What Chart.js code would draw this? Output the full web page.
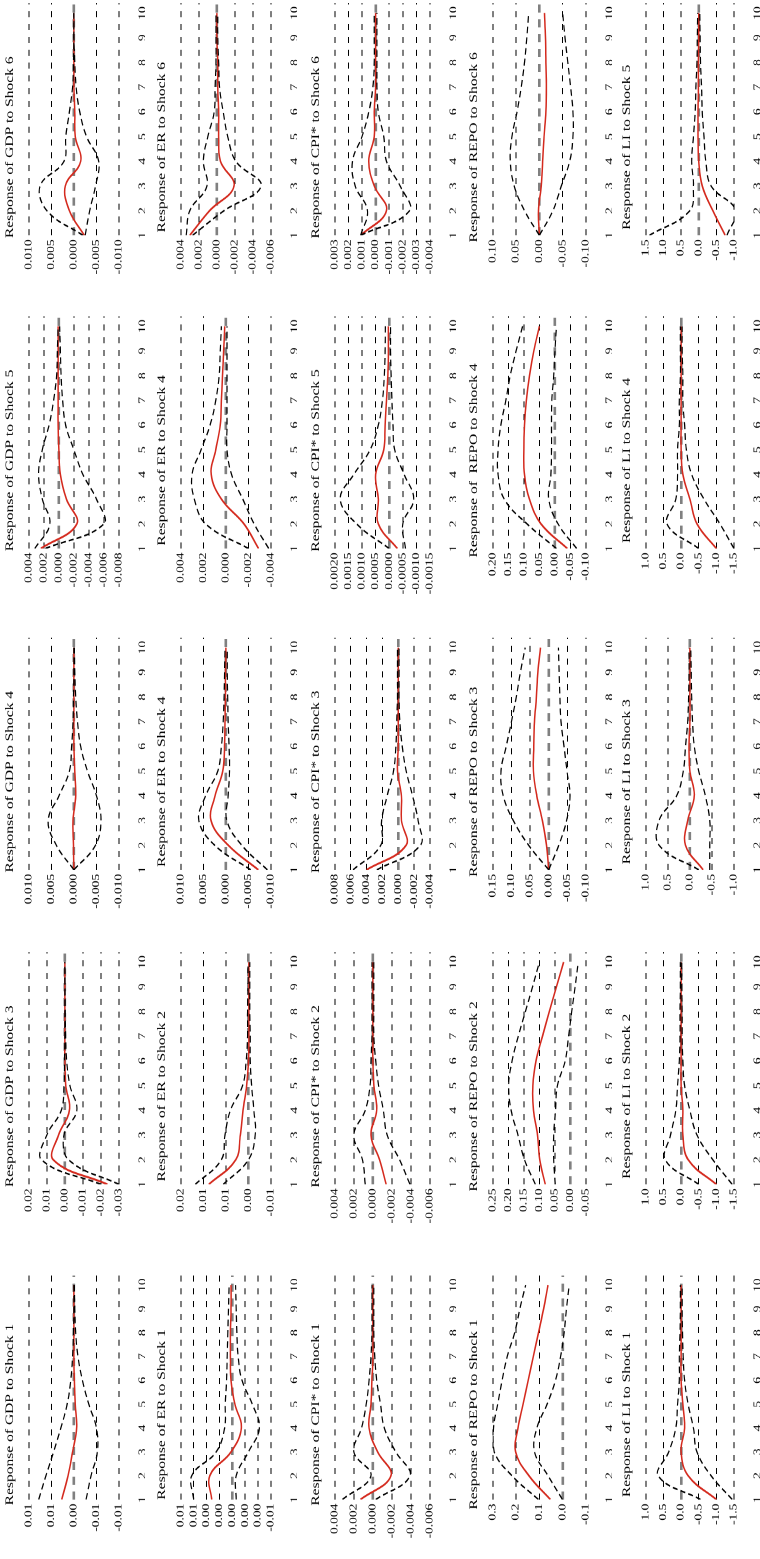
<!DOCTYPE html>
<html>
<head>
<meta charset="utf-8">
<script src="https://cdn.jsdelivr.net/npm/chart.js@4.4.1/dist/chart.umd.min.js"></script>
<style>
  html, body { margin: 0; padding: 0; background: #fff; overflow: hidden; }
  body { width: 760px; height: 1559px; position: relative; }
  /* the figure is drawn landscape, stretched sideways, then turned a quarter */
  #page { position: absolute; left: 0; top: 0; width: 1155px; height: 760px;
          transform-origin: 0 0; transform: translate(0, 1559px) rotate(-90deg) scale(1.35, 1); }
  #page canvas { position: absolute; }
</style>
</head>
<body>
<div id="page"></div>
<script>
const steps = [1, 2, 3, 4, 5, 6, 7, 8, 9, 10];

// ---- GDP ----
const gdpS1Irf = [0.0027, 0.0013, 0.0003, -0.0006, -0.0003, -0.0001, 0, 0, 0, 0];
const gdpS1Hi  = [0.0078, 0.0062, 0.0045, 0.0029, 0.0015, 0.0007, 0.0003, 0.0001, 0, 0];
const gdpS1Lo  = [-0.0027, -0.0038, -0.0052, -0.0050, -0.0033, -0.0019, -0.0009, -0.0004, -0.0002, -0.0001];
const gdpS1Ticks = [0.01, 0.005, 0, -0.005, -0.01];
const gdpS1Labels = ['0.01', '0.01', '0.00', '-0.01', '-0.01'];

const gdpS3Irf = [-0.0236, 0.0065, 0.0035, -0.0025, -0.0005, 0, 0, 0, 0, 0];
const gdpS3Hi  = [-0.020, 0.013, 0.010, 0.002, 0.0005, 0.0002, 0, 0, 0, 0];
const gdpS3Lo  = [-0.030, -0.002, 0.0005, -0.0066, -0.0028, -0.0010, -0.0004, -0.0002, -0.0001, 0];
const gdpS3Ticks = [0.02, 0.01, 0, -0.01, -0.02, -0.03];
const gdpS3Labels = ['0.02', '0.01', '0.00', '-0.01', '-0.02', '-0.03'];

const gdpS4Irf = [0, 0.0001, 0.0002, -0.0004, -0.0002, 0, 0, 0, 0, 0];
const gdpS4Hi  = [0, 0.0039, 0.0057, 0.0033, 0.0010, 0.0005, 0.0002, 0.0001, 0, 0];
const gdpS4Lo  = [0, -0.0048, -0.0060, -0.0050, -0.0030, -0.0015, -0.0008, -0.0004, -0.0002, -0.0001];
const gdpS4Ticks = [0.01, 0.005, 0, -0.005, -0.01];
const gdpS4Labels = ['0.010', '0.005', '0.000', '-0.005', '-0.010'];

const gdpS5Irf = [0.0024, -0.0024, -0.0010, -0.0002, 0, 0.0001, 0.0001, 0.0001, 0.0001, 0.0001];
const gdpS5Hi  = [0.0032, 0.0012, 0.0022, 0.0027, 0.0022, 0.0013, 0.0007, 0.0003, 0.0002, 0.0001];
const gdpS5Lo  = [0.0018, -0.0060, -0.0050, -0.0032, -0.0020, -0.0009, -0.0005, -0.0003, -0.0002, -0.0001];
const gdpS5Ticks = [0.004, 0.002, 0, -0.002, -0.004, -0.006, -0.008];
const gdpS5Labels = ['0.004', '0.002', '0.000', '-0.002', '-0.004', '-0.006', '-0.008'];

const gdpS6Irf = [-0.0023, 0.0010, 0.0019, -0.0015, -0.0003, -0.0002, 0, 0, 0, 0];
const gdpS6Hi  = [-0.0020, 0.0060, 0.0075, 0.0022, 0.0018, 0.0010, 0.0003, 0.0001, 0, 0];
const gdpS6Lo  = [-0.0025, -0.0035, -0.0048, -0.0055, -0.0028, -0.0013, -0.0005, -0.0002, 0, 0];
const gdpS6Ticks = [0.01, 0.005, 0, -0.005, -0.01];
const gdpS6Labels = ['0.010', '0.005', '0.000', '-0.005', '-0.010'];

// ---- ER ----
const erS1Irf = [0.0032, 0.0035, 0.0002, -0.0014, -0.0004, 0.0002, 0.0003, 0.0003, 0.0002, 0.0002];
const erS1Hi  = [0.0060, 0.0063, 0.0025, 0.0012, 0.0011, 0.0009, 0.0008, 0.0007, 0.0006, 0.0005];
const erS1Lo  = [-0.0006, -0.0006, -0.0025, -0.0042, -0.0031, -0.0015, -0.0009, -0.0007, -0.0006, -0.0005];
const erS1Ticks = [0.008, 0.006, 0.004, 0.002, 0, -0.002, -0.004, -0.006];
const erS1Labels = ['0.01', '0.01', '0.00', '0.00', '0.00', '0.00', '0.00', '-0.01'];

const erS2Irf = [0.0088, 0.0028, 0.0018, 0.0012, 0.0004, 0, -0.0001, -0.0001, -0.0001, -0.0001];
const erS2Hi  = [0.0118, 0.0060, 0.0052, 0.0040, 0.0013, 0.0005, 0.0002, 0.0002, 0.0001, 0.0001];
const erS2Lo  = [0.0056, 0, -0.0015, -0.0012, -0.0007, -0.0004, -0.0004, -0.0003, -0.0003, -0.0003];
const erS2Ticks = [0.015, 0.01, 0.005, 0, -0.005];
const erS2Labels = ['0.02', '0.01', '0.01', '0.00', '-0.01'];

const erS4aIrf = [-0.0072, -0.0005, 0.0033, 0.0024, 0.0007, 0.0003, 0.0002, 0.0001, 0.0001, 0];
const erS4aHi  = [-0.0055, 0.0025, 0.0060, 0.0045, 0.0018, 0.0010, 0.0006, 0.0004, 0.0003, 0.0002];
const erS4aLo  = [-0.0092, -0.0035, -0.0002, -0.0005, -0.0008, -0.0007, -0.0005, -0.0004, -0.0003, -0.0003];
const erS4aTicks = [0.01, 0.005, 0, -0.005, -0.01];
const erS4aLabels = ['0.010', '0.005', '0.000', '-0.005', '-0.010'];

const erS4bIrf = [-0.0029, -0.0016, 0.0004, 0.0013, 0.0009, 0.0005, 0.0004, 0.0003, 0.0002, 0.0001];
const erS4bHi  = [-0.0020, 0.0018, 0.0028, 0.0030, 0.0022, 0.0014, 0.0009, 0.0006, 0.0005, 0.0004];
const erS4bLo  = [-0.0038, -0.0025, -0.0015, -0.0005, -0.0001, -0.0001, -0.0001, -0.0001, -0.0001, -0.0001];
const erS4bTicks = [0.004, 0.002, 0, -0.002, -0.004];
const erS4bLabels = ['0.004', '0.002', '0.000', '-0.002', '-0.004'];

const erS6Irf = [0.0030, 0.0008, -0.0019, -0.0004, -0.0002, -0.0002, -0.0001, -0.0001, 0, 0];
const erS6Hi  = [0.0034, 0.0030, 0.0011, 0.0015, 0.0010, 0.0003, 0.0002, 0.0001, 0.0001, 0.0001];
const erS6Lo  = [0.0027, -0.0008, -0.0049, -0.0021, -0.0012, -0.0007, -0.0003, -0.0002, -0.0001, -0.0001];
const erS6Ticks = [0.004, 0.002, 0, -0.002, -0.004, -0.006];
const erS6Labels = ['0.004', '0.002', '0.000', '-0.002', '-0.004', '-0.006'];

// ---- CPI ----
const cpiS1Irf = [0.0013, -0.0019, -0.0005, 0.0004, 0.0002, 0.0001, 0, 0, 0, 0];
const cpiS1Hi  = [0.0032, 0.0002, 0.0020, 0.0012, 0.0007, 0.0004, 0.0002, 0.0001, 0.0001, 0.0001];
const cpiS1Lo  = [-0.0003, -0.0039, -0.0024, -0.0012, -0.0008, -0.0004, -0.0002, -0.0001, -0.0001, -0.0001];
const cpiS1Ticks = [0.004, 0.002, 0, -0.002, -0.004, -0.006];
const cpiS1Labels = ['0.004', '0.002', '0.000', '-0.002', '-0.004', '-0.006'];

const cpiS2Irf = [-0.0014, -0.0007, 0.0002, -0.0004, -0.0001, 0, 0, 0, 0, 0];
const cpiS2Hi  = [0.0008, 0.0011, 0.0020, 0.0008, 0.0003, 0.0002, 0.0001, 0.0001, 0.0001, 0.0001];
const cpiS2Lo  = [-0.0039, -0.0028, -0.0015, -0.0011, -0.0006, -0.0003, -0.0001, -0.0001, -0.0001, -0.0001];
const cpiS2Ticks = [0.004, 0.002, 0, -0.002, -0.004, -0.006];
const cpiS2Labels = ['0.004', '0.002', '0.000', '-0.002', '-0.004', '-0.006'];

const cpiS3Irf = [0.0040, -0.0010, -0.0004, -0.0004, 0.0001, 0, 0, 0, 0, 0];
const cpiS3Hi  = [0.0057, 0.0022, 0.0021, 0.0014, 0.0006, 0.0003, 0.0002, 0.0001, 0.0001, 0.0001];
const cpiS3Lo  = [0.0027, -0.0028, -0.0025, -0.0018, -0.0010, -0.0005, -0.0002, -0.0001, -0.0001, -0.0001];
const cpiS3Ticks = [0.008, 0.006, 0.004, 0.002, 0, -0.002, -0.004];
const cpiS3Labels = ['0.008', '0.006', '0.004', '0.002', '0.000', '-0.002', '-0.004'];

const cpiS5Irf = [-0.0003, 0.0004, 0.0004, 0.0005, 0.0002, 0.00015, 0.0001, 0.00005, 0.00003, 0.00003];
const cpiS5Hi  = [0, 0.0012, 0.0018, 0.0013, 0.0007, 0.0004, 0.00025, 0.00018, 0.00015, 0.00014];
const cpiS5Lo  = [-0.0006, -0.0005, -0.0009, -0.00055, -0.0002, -0.00014, -0.0001, -0.00007, -0.00005, -0.00005];
const cpiS5Ticks = [0.002, 0.0015, 0.001, 0.0005, 0, -0.0005, -0.001, -0.0015];
const cpiS5Labels = ['0.0020', '0.0015', '0.0010', '0.0005', '0.0000', '-0.0005', '-0.0010', '-0.0015'];

const cpiS6Irf = [0.0011, -0.0008, 0.0001, 0.0005, 0.0001, 0.0001, 0, 0, 0, 0];
const cpiS6Hi  = [0.0011, 0.0006, 0.0015, 0.0017, 0.0010, 0.0005, 0.0002, 0.0001, 0.0001, 0.0001];
const cpiS6Lo  = [0.0011, -0.0025, -0.0018, -0.0008, -0.0006, -0.0002, -0.0001, -0.0001, -0.0001, -0.0001];
const cpiS6Ticks = [0.003, 0.002, 0.001, 0, -0.001, -0.002, -0.003, -0.004];
const cpiS6Labels = ['0.003', '0.002', '0.001', '0.000', '-0.001', '-0.002', '-0.003', '-0.004'];

// ---- REPO ----
const repoS1Irf = [0.053, 0.145, 0.202, 0.192, 0.170, 0.148, 0.126, 0.104, 0.082, 0.063];
const repoS1Hi  = [0.104, 0.218, 0.294, 0.297, 0.279, 0.260, 0.238, 0.206, 0.184, 0.159];
const repoS1Lo  = [0.001, 0.063, 0.121, 0.111, 0.067, 0.031, 0.009, -0.006, -0.016, -0.028];
const repoS1Ticks = [0.3, 0.2, 0.1, 0, -0.1];
const repoS1Labels = ['0.3', '0.2', '0.1', '0.0', '-0.1'];

const repoS2Irf = [0.081, 0.099, 0.106, 0.119, 0.121, 0.111, 0.090, 0.068, 0.045, 0.022];
const repoS2Hi  = [0.113, 0.148, 0.169, 0.191, 0.199, 0.188, 0.168, 0.145, 0.122, 0.100];
const repoS2Lo  = [0.049, 0.054, 0.054, 0.048, 0.042, 0.017, 0.006, -0.004, -0.015, -0.025];
const repoS2Ticks = [0.25, 0.2, 0.15, 0.1, 0.05, 0, -0.05];
const repoS2Labels = ['0.25', '0.20', '0.15', '0.10', '0.05', '0.00', '-0.05'];

const repoS3Irf = [0, 0.006, 0.017, 0.032, 0.041, 0.040, 0.038, 0.033, 0.029, 0.022];
const repoS3Hi  = [0, 0.054, 0.095, 0.122, 0.128, 0.114, 0.100, 0.087, 0.076, 0.063];
const repoS3Lo  = [0, -0.027, -0.048, -0.057, -0.049, -0.041, -0.033, -0.030, -0.028, -0.026];
const repoS3Ticks = [0.15, 0.1, 0.05, 0, -0.05, -0.1];
const repoS3Labels = ['0.15', '0.10', '0.05', '0.00', '-0.05', '-0.10'];

const repoS4Irf = [-0.040, 0.045, 0.082, 0.098, 0.100, 0.098, 0.092, 0.082, 0.068, 0.050];
const repoS4Hi  = [-0.005, 0.090, 0.163, 0.183, 0.183, 0.174, 0.158, 0.144, 0.125, 0.104];
const repoS4Lo  = [-0.070, -0.010, 0.020, 0.013, 0.011, 0.011, 0.010, 0.004, 0, -0.005];
const repoS4Ticks = [0.2, 0.15, 0.1, 0.05, 0, -0.05, -0.1];
const repoS4Labels = ['0.20', '0.15', '0.10', '0.05', '0.00', '-0.05', '-0.10'];

const repoS6Irf = [0, 0.002, -0.004, -0.007, -0.010, -0.014, -0.015, -0.014, -0.013, -0.011];
const repoS6Hi  = [0, 0.032, 0.054, 0.0625, 0.059, 0.048, 0.039, 0.032, 0.027, 0.023];
const repoS6Lo  = [0, -0.029, -0.047, -0.065, -0.072, -0.072, -0.067, -0.061, -0.055, -0.050];
const repoS6Ticks = [0.1, 0.05, 0, -0.05, -0.1];
const repoS6Labels = ['0.10', '0.05', '0.00', '-0.05', '-0.10'];

// ---- LI ----
const liS1Irf = [-1.0, -0.2, 0, -0.1, -0.05, 0, 0, 0, 0, 0];
const liS1Hi  = [-0.55, 0.65, 0.35, 0.15, 0.1, 0.05, 0.05, 0.03, 0.02, 0.02];
const liS1Lo  = [-1.45, -0.85, -0.45, -0.35, -0.2, -0.1, -0.06, -0.04, -0.03, -0.03];
const liS1Ticks = [1, 0.5, 0, -0.5, -1, -1.5];
const liS1Labels = ['1.0', '0.5', '0.0', '-0.5', '-1.0', '-1.5'];

const liS2Irf = [-1.0, -0.2, -0.05, -0.05, 0, 0, 0, 0, 0, 0];
const liS2Hi  = [-0.5, 0.45, 0.3, 0.15, 0.1, 0.05, 0.03, 0.03, 0.02, 0.02];
const liS2Lo  = [-1.45, -0.9, -0.45, -0.25, -0.1, -0.05, -0.03, -0.03, -0.02, -0.02];
const liS2Ticks = [1, 0.5, 0, -0.5, -1, -1.5];
const liS2Labels = ['1.0', '0.5', '0.0', '-0.5', '-1.0', '-1.5'];

const liS3Irf = [-0.3, 0.1, 0.05, -0.1, 0, 0.02, 0, 0, 0, 0];
const liS3Hi  = [-0.2, 0.7, 0.7, 0.3, 0.15, 0.1, 0.05, 0.03, 0.02, 0.02];
const liS3Lo  = [-0.45, -0.45, -0.45, -0.35, -0.2, -0.1, -0.06, -0.04, -0.03, -0.02];
const liS3Ticks = [1, 0.5, 0, -0.5, -1];
const liS3Labels = ['1.0', '0.5', '0.0', '-0.5', '-1.0'];

const liS4Irf = [-1.0, -0.45, -0.25, -0.05, 0, 0, 0, 0, 0, 0];
const liS4Hi  = [-0.5, 0.4, 0.15, 0.1, 0.1, 0.05, 0.05, 0.02, 0.02, 0.02];
const liS4Lo  = [-1.5, -1.1, -0.65, -0.3, -0.15, -0.1, -0.05, -0.05, -0.03, -0.03];
const liS4Ticks = [1, 0.5, 0, -0.5, -1, -1.5];
const liS4Labels = ['1.0', '0.5', '0.0', '-0.5', '-1.0', '-1.5'];

const liS5Irf = [-0.75, -0.4, -0.1, 0, 0.02, 0.02, 0.01, 0.01, 0, 0];
const liS5Hi  = [1.4, 0.25, 0.15, 0.2, 0.15, 0.1, 0.08, 0.05, 0.04, 0.03];
const liS5Lo  = [-0.8, -1.05, -0.35, -0.2, -0.15, -0.1, -0.08, -0.05, -0.04, -0.03];
const liS5Ticks = [1.5, 1, 0.5, 0, -0.5, -1];
const liS5Labels = ['1.5', '1.0', '0.5', '0.0', '-0.5', '-1.0'];

// rows top to bottom, panels left to right
const panels = [
  [
    ['Response of GDP to Shock 1', gdpS1Irf, gdpS1Hi, gdpS1Lo, gdpS1Ticks, gdpS1Labels],
    ['Response of GDP to Shock 3', gdpS3Irf, gdpS3Hi, gdpS3Lo, gdpS3Ticks, gdpS3Labels],
    ['Response of GDP to Shock 4', gdpS4Irf, gdpS4Hi, gdpS4Lo, gdpS4Ticks, gdpS4Labels],
    ['Response of GDP to Shock 5', gdpS5Irf, gdpS5Hi, gdpS5Lo, gdpS5Ticks, gdpS5Labels],
    ['Response of GDP to Shock 6', gdpS6Irf, gdpS6Hi, gdpS6Lo, gdpS6Ticks, gdpS6Labels]
  ],
  [
    ['Response of ER to Shock 1', erS1Irf, erS1Hi, erS1Lo, erS1Ticks, erS1Labels],
    ['Response of ER to Shock 2', erS2Irf, erS2Hi, erS2Lo, erS2Ticks, erS2Labels],
    ['Response of ER to Shock 4', erS4aIrf, erS4aHi, erS4aLo, erS4aTicks, erS4aLabels],
    ['Response of ER to Shock 4', erS4bIrf, erS4bHi, erS4bLo, erS4bTicks, erS4bLabels],
    ['Response of ER to Shock 6', erS6Irf, erS6Hi, erS6Lo, erS6Ticks, erS6Labels]
  ],
  [
    ['Response of CPI* to Shock 1', cpiS1Irf, cpiS1Hi, cpiS1Lo, cpiS1Ticks, cpiS1Labels],
    ['Response of CPI* to Shock 2', cpiS2Irf, cpiS2Hi, cpiS2Lo, cpiS2Ticks, cpiS2Labels],
    ['Response of CPI* to Shock 3', cpiS3Irf, cpiS3Hi, cpiS3Lo, cpiS3Ticks, cpiS3Labels],
    ['Response of CPI* to Shock 5', cpiS5Irf, cpiS5Hi, cpiS5Lo, cpiS5Ticks, cpiS5Labels],
    ['Response of CPI* to Shock 6', cpiS6Irf, cpiS6Hi, cpiS6Lo, cpiS6Ticks, cpiS6Labels]
  ],
  [
    ['Response of REPO to Shock 1', repoS1Irf, repoS1Hi, repoS1Lo, repoS1Ticks, repoS1Labels],
    ['Response of REPO to Shock 2', repoS2Irf, repoS2Hi, repoS2Lo, repoS2Ticks, repoS2Labels],
    ['Response of REPO to Shock 3', repoS3Irf, repoS3Hi, repoS3Lo, repoS3Ticks, repoS3Labels],
    ['Response of  REPO to Shock 4', repoS4Irf, repoS4Hi, repoS4Lo, repoS4Ticks, repoS4Labels],
    ['Response of REPO to Shock 6', repoS6Irf, repoS6Hi, repoS6Lo, repoS6Ticks, repoS6Labels]
  ],
  [
    ['Response of LI to Shock 1', liS1Irf, liS1Hi, liS1Lo, liS1Ticks, liS1Labels],
    ['Response of LI to Shock 2', liS2Irf, liS2Hi, liS2Lo, liS2Ticks, liS2Labels],
    ['Response of LI to Shock 3', liS3Irf, liS3Hi, liS3Lo, liS3Ticks, liS3Labels],
    ['Response of LI to Shock 4', liS4Irf, liS4Hi, liS4Lo, liS4Ticks, liS4Labels],
    ['Response of LI to Shock 5', liS5Irf, liS5Hi, liS5Lo, liS5Ticks, liS5Labels]
  ]
];

// layout, in px of the unstretched landscape figure
const S = 1.35;                                // sideways stretch
const UNIT = 24.7;                             // px per step
const colX1 = [59, 374, 689, 1010, 1324];      // where step 1 sits
const titleMid = [145, 509, 820, 1134, 1459];
const plotTop = [29, 181, 335, 493, 646];
const plotH = [90, 90, 95, 93, 88];
const TITLE_H = 29.8, AXIS_H = 26;
const serif = 'Liberation Serif, Times New Roman, serif';

const page = document.getElementById('page');

function pts(arr) {
  return steps.map((x, i) => ({ x: x, y: arr[i] }));
}

function drawPanel(r, c, p) {
  const [title, irf, hi, lo, ticks, labels] = p;
  const plotL = colX1[c];
  const plotR = plotL + 9.4 * UNIT;
  let L = plotL - 56, R = plotR + 2;
  if ((L + R) / 2 < titleMid[c]) R = 2 * titleMid[c] - L; else L = 2 * titleMid[c] - R;
  const w = Math.round((R - L) / S);
  const yW = (plotL - L) / S;
  const padR = w - yW - (plotR - plotL) / S;
  const h = Math.round(TITLE_H + plotH[r] + AXIS_H);

  const canvas = document.createElement('canvas');
  canvas.width = w;
  canvas.height = h;
  canvas.style.left = (L / S) + 'px';
  canvas.style.top = (plotTop[r] - TITLE_H) + 'px';
  page.appendChild(canvas);

  const band = { borderColor: '#000', borderWidth: 1.2, borderDash: [5, 3], pointRadius: 0, tension: 0.4, fill: false };
  new Chart(canvas, {
    type: 'line',
    data: {
      datasets: [
        Object.assign({ data: pts(hi) }, band),
        Object.assign({ data: pts(lo) }, band),
        { data: pts(irf), borderColor: '#d42a1e', borderWidth: 1.5, pointRadius: 0, tension: 0.4, fill: false }
      ]
    },
    options: {
      responsive: false,
      animation: false,
      devicePixelRatio: 2,
      layout: { padding: { left: 0, right: padR, top: 0, bottom: 0 } },
      plugins: {
        legend: { display: false },
        tooltip: { enabled: false },
        title: {
          display: true,
          text: title,
          color: '#000',
          font: { family: serif, size: 11.5, weight: 'normal' },
          padding: { top: 4, bottom: 12 }
        }
      },
      scales: {
        x: {
          type: 'linear',
          min: 1,
          max: 10.4,
          afterBuildTicks: s => { s.ticks = steps.map(v => ({ value: v })); },
          afterFit: s => { s.height = AXIS_H; },
          grid: { display: false },
          border: { display: false },
          ticks: {
            autoSkip: false, maxRotation: 0, padding: 10, color: '#000',
            font: { family: serif, size: 10 },
            callback: v => String(v)
          }
        },
        y: {
          min: ticks[ticks.length - 1],
          max: ticks[0],
          afterBuildTicks: s => { s.ticks = ticks.slice().reverse().map(v => ({ value: v })); },
          afterFit: s => { s.width = yW; },
          grid: {
            drawTicks: false,
            color: ctx => (ctx.tick && ctx.tick.value === 0) ? '#808080' : '#000',
            lineWidth: ctx => (ctx.tick && ctx.tick.value === 0) ? 2.6 : 0.9
          },
          border: {
            display: false,
            dash: ctx => (ctx.tick && ctx.tick.value === 0) ? [6, 5] : [4.5, 5]
          },
          ticks: {
            autoSkip: false, padding: 3, color: '#000',
            font: { family: serif, size: 10 },
            callback: (v, i) => labels[labels.length - 1 - i]
          }
        }
      }
    }
  });
}

panels.forEach((row, r) => row.forEach((p, c) => drawPanel(r, c, p)));
</script>
</body>
</html>
